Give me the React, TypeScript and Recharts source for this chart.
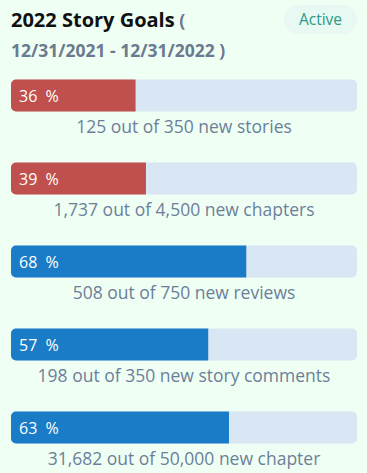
import React from "react";
import { BarChart, Bar, XAxis, YAxis, Cell, LabelList } from "recharts";

// goal progress
const goalNames = ["stories", "chapters", "reviews", "comments", "words"];
const percents = [36, 39, 68, 57, 63];
const captions = [
  "125 out of 350 new stories",
  "1,737 out of 4,500 new chapters",
  "508 out of 750 new reviews",
  "198 out of 350 new story comments",
  "31,682 out of 50,000 new chapter",
];
const barColors = ["#c0504d", "#c0504d", "#1a7cc7", "#1a7cc7", "#1a7cc7"];

const data = goalNames.map((name, i) => ({
  name,
  pct: percents[i],
  caption: captions[i],
}));

const FONT = "'Open Sans', 'Noto Sans', sans-serif";

function TrackWithCaption(props: any) {
  const { x, y, width, height, index } = props;
  return (
    <g>
      <rect x={x} y={y} width={width} height={height} rx={5} ry={5} fill="#d9e6f4" />
      <text
        x={x + width / 2}
        y={y + height + 14}
        textAnchor="middle"
        dominantBaseline="central"
        fill="#6b7f9a"
        fontSize={17.5}
        fontFamily={FONT}
      >
        {data[index].caption}
      </text>
    </g>
  );
}

function PercentLabel(props: any) {
  const { x, y, height, value } = props;
  return (
    <text
      x={x + 8}
      y={y + height / 2}
      dominantBaseline="central"
      fill="#ffffff"
      fontSize={16}
      fontFamily={FONT}
      style={{ whiteSpace: "pre" }}
    >
      {`${value}  %`}
    </text>
  );
}

export default function App() {
  return (
    <div
      style={{
        position: "fixed",
        left: 0,
        top: 0,
        width: 367,
        height: 473,
        background: "#f0fff4",
        fontFamily: FONT,
        overflow: "hidden",
      }}
    >
      {/* header */}
      <div style={{ position: "absolute", left: 11, top: 5, width: 270, lineHeight: "29px" }}>
        <span style={{ fontWeight: 700, fontSize: 20, color: "#111" }}>2022 Story Goals</span>
        <span style={{ fontWeight: 700, fontSize: 18, color: "#6b7a90" }}> (</span>
        <br />
        <span style={{ fontWeight: 700, fontSize: 17.5, color: "#6b7a90" }}>
          12/31/2021 - 12/31/2022 )
        </span>
      </div>
      <div
        style={{
          position: "absolute",
          left: 284,
          top: 5,
          width: 73,
          height: 29,
          borderRadius: 15,
          background: "#e8f8f3",
          color: "#2e9a8a",
          fontSize: 15.5,
          lineHeight: "29px",
          textAlign: "center",
        }}
      >
        Active
      </div>

      <div style={{ position: "absolute", left: 0, top: 0 }}>
        <BarChart
          width={367}
          height={473}
          data={data}
          layout="vertical"
          margin={{ top: 53.5, right: 10, bottom: 4.5, left: 11 }}
        >
          <XAxis type="number" domain={[0, 100]} hide />
          <YAxis type="category" dataKey="name" hide />
          <Bar
            dataKey="pct"
            barSize={32}
            radius={[5, 0, 0, 5]}
            background={TrackWithCaption}
            isAnimationActive={false}
          >
            {data.map((d, i) => (
              <Cell key={d.name} fill={barColors[i]} />
            ))}
            <LabelList dataKey="pct" content={PercentLabel} />
          </Bar>
        </BarChart>
      </div>
    </div>
  );
}
